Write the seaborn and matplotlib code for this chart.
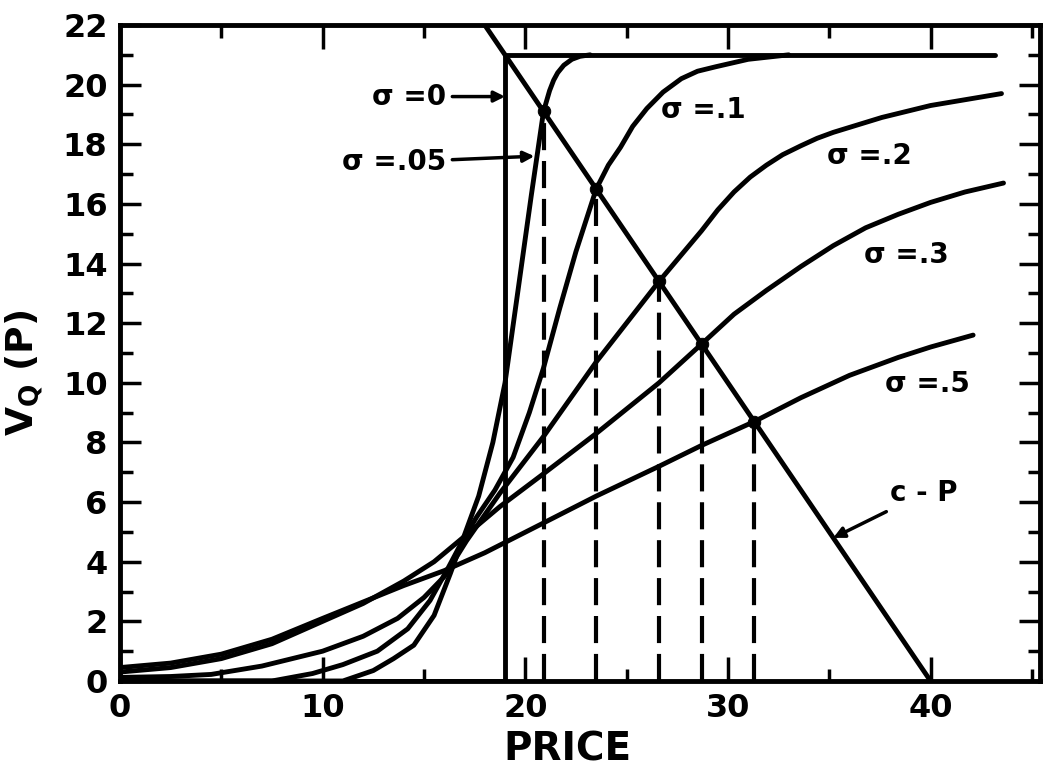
import matplotlib
matplotlib.use("Agg")
import matplotlib.pyplot as plt
import pandas as pd
import seaborn as sns
from matplotlib.ticker import MultipleLocator

# valores: V_Q(P) para cada sigma
price_s0 = [0, 19.0, 19.0, 43.2]
v_s0 = [0, 0, 21.0, 21.0]

price_s05 = [0, 11.0, 12.5, 13.5, 14.5, 15.5, 16.3, 17.0, 17.7, 18.4, 19.0, 19.6, 20.3, 20.9,
             21.2, 21.4, 21.6, 21.9, 22.3, 22.7, 23.2]
v_s05 = [0, 0.0, 0.35, 0.75, 1.2, 2.2, 3.6, 4.9, 6.2, 8.0, 10.0, 12.9, 16.3, 19.1,
         19.8, 20.15, 20.4, 20.65, 20.85, 20.95, 21.0]

price_s1 = [0, 7.5, 9.5, 11.0, 12.7, 14.2, 15.3, 16.2, 16.9, 17.6, 18.5, 19.4, 20.2, 20.9, 21.7,
            22.5, 23.5, 24.1, 24.7, 25.3, 26.0, 26.8, 27.7, 28.5, 29.4, 31.0, 33.0]
v_s1 = [0, 0, 0.25, 0.55, 1.0, 1.75, 2.7, 3.8, 4.7, 5.5, 6.4, 7.5, 9.0, 10.5, 12.5,
        14.4, 16.5, 17.3, 17.9, 18.6, 19.2, 19.75, 20.2, 20.45, 20.6, 20.85, 21.0]

price_s2 = [0, 2.5, 4.5, 7.0, 10.0, 12.0, 13.7, 15.0, 16.0, 17.1, 18.75, 20.9, 23.5, 26.6, 28.7,
            29.5, 30.3, 31.1, 31.9, 32.7, 33.6, 34.4, 35.2, 37.6, 40.0, 43.5]
v_s2 = [0.12, 0.15, 0.22, 0.5, 1.0, 1.5, 2.1, 2.8, 3.5, 4.7, 6.3, 8.2, 10.7, 13.4, 15.1,
        15.8, 16.4, 16.9, 17.3, 17.65, 17.95, 18.2, 18.4, 18.9, 19.3, 19.7]

price_s3 = [0, 2.5, 5.0, 7.5, 10.0, 12.0, 14.0, 15.5, 17.0, 18.75, 20.9, 23.5, 26.6, 28.7, 30.3,
            31.9, 33.6, 35.2, 36.8, 38.4, 40.0, 41.7, 43.6]
v_s3 = [0.3, 0.45, 0.75, 1.25, 2.0, 2.6, 3.35, 4.0, 4.85, 5.85, 6.95, 8.3, 10.0, 11.3, 12.3,
        13.1, 13.9, 14.6, 15.2, 15.65, 16.05, 16.4, 16.7]

price_s5 = [0, 2.5, 5.0, 7.5, 10.0, 12.0, 14.0, 16.0, 18.0, 20.9, 23.5, 26.6, 28.7, 31.3, 33.6,
            36.0, 38.4, 40.0, 42.1]
v_s5 = [0.45, 0.6, 0.9, 1.4, 2.1, 2.65, 3.2, 3.7, 4.3, 5.3, 6.2, 7.2, 7.9, 8.7, 9.5,
        10.25, 10.85, 11.2, 11.6]

# recta c - P
price_cp = [18.0, 40.0]
v_cp = [22.0, 0.0]

# cortes con c - P (lineas punteadas)
cross_price = [20.9, 23.5, 26.6, 28.7, 31.3]
cross_value = [19.1, 16.5, 13.4, 11.3, 8.7]

sns.set_theme(style="ticks")
plt.rcParams["font.family"] = ["DejaVu Sans"]
plt.rcParams["font.weight"] = "bold"
plt.rcParams["mathtext.fontset"] = "dejavusans"
plt.rcParams["text.color"] = "black"
plt.rcParams["axes.labelcolor"] = "black"
plt.rcParams["xtick.color"] = "black"
plt.rcParams["ytick.color"] = "black"

curvas = [
    ("0", price_s0, v_s0),
    (".05", price_s05, v_s05),
    (".1", price_s1, v_s1),
    (".2", price_s2, v_s2),
    (".3", price_s3, v_s3),
    (".5", price_s5, v_s5),
    ("c-P", price_cp, v_cp),
]
df = pd.concat(
    [pd.DataFrame({"price": xs, "value": ys, "curva": nombre}) for nombre, xs, ys in curvas],
    ignore_index=True,
)

fig = plt.figure(figsize=(10.49, 7.72), dpi=100)
ax = fig.add_axes([0.1144, 0.1179, 0.8770, 0.8497])

sns.lineplot(data=df, x="price", y="value", units="curva", estimator=None, sort=False,
             color="black", lw=3.5, ax=ax, legend=False)

ax.vlines(cross_price, 0, cross_value, colors="black", lw=3, linestyles=(0, (6.5, 2.6)))
sns.scatterplot(x=cross_price, y=cross_value, s=80, color="black", edgecolor="black", ax=ax, zorder=5)

# etiquetas
flecha = dict(arrowstyle="-|>", lw=2.5, color="black", mutation_scale=16, shrinkA=2, shrinkB=0)
ax.annotate("σ =0", xy=(19.0, 19.6), xytext=(16.1, 19.6), ha="right", va="center",
            fontsize=20, arrowprops=flecha)
ax.annotate("σ =.05", xy=(20.45, 17.6), xytext=(16.1, 17.4), ha="right", va="center",
            fontsize=20, arrowprops=flecha)
ax.annotate("c - P", xy=(35.2, 4.8), xytext=(38.0, 6.3), ha="left", va="center",
            fontsize=20, arrowprops=flecha)
ax.text(28.8, 19.15, "σ =.1", ha="center", va="center", fontsize=20)
ax.text(37.0, 17.6, "σ =.2", ha="center", va="center", fontsize=20)
ax.text(38.8, 14.3, "σ =.3", ha="center", va="center", fontsize=20)
ax.text(39.85, 9.95, "σ =.5", ha="center", va="center", fontsize=20)

ax.set_xlim(0, 45.4)
ax.set_ylim(0, 22)
ax.xaxis.set_major_locator(MultipleLocator(10))
ax.xaxis.set_minor_locator(MultipleLocator(5))
ax.yaxis.set_major_locator(MultipleLocator(2))
ax.yaxis.set_minor_locator(MultipleLocator(1))
ax.tick_params(which="both", direction="in", top=True, right=True, width=2.5, color="black")
ax.tick_params(axis="x", which="major", length=17, pad=9, labelsize=23)
ax.tick_params(axis="x", which="minor", length=9)
ax.tick_params(axis="y", which="major", length=15, pad=9, labelsize=23)
ax.tick_params(axis="y", which="minor", length=9)
for s in ax.spines.values():
    s.set_linewidth(3.5)
    s.set_color("black")

ax.set_xlabel("PRICE", fontsize=28, fontweight="bold")
ax.xaxis.set_label_coords(0.486, -0.075)
ax.set_ylabel(r"V$_\mathbf{Q}$ (P)", fontsize=27, fontweight="bold")
ax.yaxis.set_label_coords(-0.082, 0.47)

fig.savefig("out.png", dpi=100)
